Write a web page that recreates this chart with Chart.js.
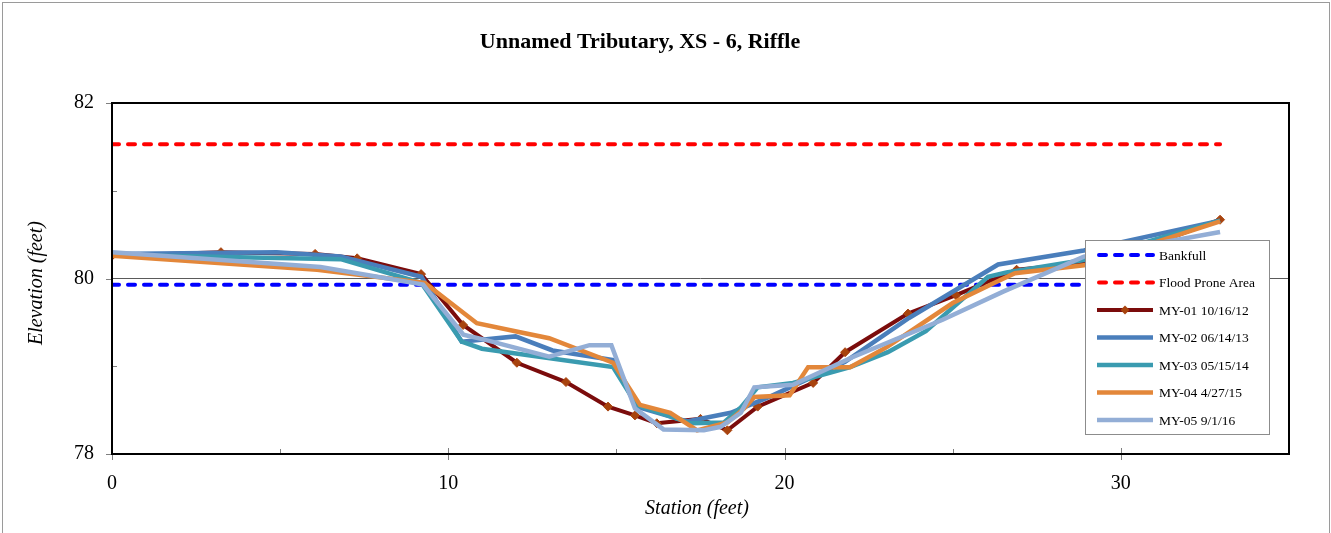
<!DOCTYPE html>
<html>
<head>
<meta charset="utf-8">
<script src="https://cdn.jsdelivr.net/npm/chart.js@4.4.1/dist/chart.umd.min.js"></script>
<style>
  html, body { margin: 0; padding: 0; background: #fff; }
  canvas { display: block; }
</style>
</head>
<body>
<canvas id="xsChart" width="1331" height="533"></canvas>
<script>
// cross-section survey, station / elevation in feet
const bankfullStation = [0, 32.95];
const bankfullElev = [79.93, 79.93];
const floodStation = [0, 32.95];
const floodElev = [81.53, 81.53];

const my01Station = [0, 3.24, 6.04, 7.29, 9.19, 10.44, 12.04, 13.5, 14.75, 15.55, 16.2, 17.5, 18.3, 19.2, 20.85, 21.8, 23.67, 25.1, 26.9, 29.6, 32.95];
const my01Elev = [80.26, 80.30, 80.28, 80.23, 80.05, 79.47, 79.04, 78.82, 78.54, 78.44, 78.35, 78.40, 78.27, 78.54, 78.81, 79.16, 79.60, 79.81, 80.10, 80.20, 80.67];

const my02Station = [0, 4.9, 6.8, 9.2, 10.4, 12.0, 13.1, 14.9, 15.6, 17.1, 18.4, 19.6, 21.8, 23.7, 26.35, 28.9, 32.95];
const my02Elev = [80.28, 80.30, 80.25, 80.02, 79.28, 79.34, 79.18, 79.07, 78.54, 78.37, 78.47, 78.66, 79.05, 79.55, 80.16, 80.32, 80.66];

const my03Station = [0, 6.8, 9.2, 10.4, 11.0, 14.9, 15.6, 17.2, 18.2, 18.7, 19.2, 20.25, 21.95, 23.07, 24.2, 26.05, 26.6, 28.9, 32.95];
const my03Elev = [80.27, 80.22, 79.95, 79.28, 79.20, 78.99, 78.56, 78.35, 78.36, 78.53, 78.76, 78.81, 78.99, 79.16, 79.40, 80.02, 80.07, 80.21, 80.66];

const my04Station = [0, 6.1, 9.3, 10.85, 12.1, 13.0, 14.9, 15.7, 16.6, 17.4, 18.3, 18.8, 19.1, 20.15, 20.7, 21.95, 23.05, 25.0, 26.4, 26.85, 28.9, 32.95];
const my04Elev = [80.26, 80.10, 79.95, 79.49, 79.39, 79.32, 79.04, 78.56, 78.47, 78.27, 78.36, 78.52, 78.65, 78.67, 78.99, 78.99, 79.22, 79.72, 79.98, 80.06, 80.15, 80.65];

const my05Station = [0, 6.2, 9.25, 10.45, 11.1, 13.0, 14.2, 14.85, 15.55, 16.4, 17.6, 18.1, 18.7, 19.1, 20.25, 22.0, 24.7, 26.5, 28.9, 32.95];
const my05Elev = [80.30, 80.13, 79.93, 79.36, 79.30, 79.11, 79.24, 79.24, 78.52, 78.28, 78.27, 78.31, 78.47, 78.76, 78.79, 79.10, 79.53, 79.85, 80.25, 80.53];

const seriesLabels = ['Bankfull', 'Flood Prone Area', 'MY-01 10/16/12', 'MY-02 06/14/13', 'MY-03 05/15/14', 'MY-04 4/27/15', 'MY-05 9/1/16'];

const xTicks = [0, 10, 20, 30];
const xMinorTicks = [5, 15, 25];
const yTicks = [78, 79, 80, 81, 82];
const yLabelled = [78, 80, 82];

const serif = '"Liberation Serif", "DejaVu Serif", serif';

function toPoints(xs, ys) {
    return xs.map((x, i) => ({ x: x, y: ys[i] }));
}

function lineSet(label, xs, ys, color, order) {
    return {
        label: label,
        data: toPoints(xs, ys),
        borderColor: color,
        backgroundColor: color,
        borderWidth: 4.5,
        pointRadius: 0,
        tension: 0,
        order: order
    };
}

const datasets = [
    Object.assign(lineSet(seriesLabels[0], bankfullStation, bankfullElev, '#0000FF', 10),
        { borderWidth: 4, borderDash: [7, 9], borderCapStyle: 'round' }),
    Object.assign(lineSet(seriesLabels[1], floodStation, floodElev, '#FF0000', 9),
        { borderWidth: 4, borderDash: [7, 9], borderCapStyle: 'round' }),
    Object.assign(lineSet(seriesLabels[2], my01Station, my01Elev, '#7B0C0C', 5),
        { borderWidth: 4, pointRadius: 4.5, pointStyle: 'rectRot', pointBackgroundColor: '#A8430E', pointBorderColor: '#A8430E', pointBorderWidth: 1 }),
    lineSet(seriesLabels[3], my02Station, my02Elev, '#4A7EBB', 4),
    lineSet(seriesLabels[4], my03Station, my03Elev, '#3A9BB0', 3),
    lineSet(seriesLabels[5], my04Station, my04Elev, '#E3873A', 2),
    lineSet(seriesLabels[6], my05Station, my05Elev, '#93AED6', 1)
];

// frame, tick marks, title, axis titles and legend box
const decorPlugin = {
    id: 'decor',
    beforeDatasetsDraw(chart) {
        const ctx = chart.ctx;
        const xs = chart.scales.x, ys = chart.scales.y;
        const a = chart.chartArea;
        ctx.save();
        ctx.strokeStyle = '#7f7f7f';
        ctx.lineWidth = 1;
        ctx.beginPath();
        xTicks.forEach(v => {
            const px = Math.round(xs.getPixelForValue(v)) + 0.5;
            ctx.moveTo(px, a.bottom - 6);
            ctx.lineTo(px, a.bottom + 6);
        });
        xMinorTicks.forEach(v => {
            const px = Math.round(xs.getPixelForValue(v)) + 0.5;
            ctx.moveTo(px, a.bottom - 5);
            ctx.lineTo(px, a.bottom);
        });
        yTicks.forEach(v => {
            const py = Math.round(ys.getPixelForValue(v)) + 0.5;
            if (yLabelled.includes(v)) {
                ctx.moveTo(a.left - 6, py);
                ctx.lineTo(a.left, py);
            } else {
                ctx.moveTo(a.left, py);
                ctx.lineTo(a.left + 5, py);
            }
        });
        ctx.stroke();
        ctx.restore();
    },
    afterDraw(chart) {
        const ctx = chart.ctx;
        const a = chart.chartArea;
        ctx.save();

        // plot frame
        ctx.strokeStyle = '#000';
        ctx.lineWidth = 2;
        ctx.strokeRect(a.left, a.top, a.right - a.left, a.bottom - a.top);

        // outer chart border
        ctx.strokeStyle = '#9a9a9a';
        ctx.lineWidth = 1;
        ctx.strokeRect(2.5, 2.5, chart.width - 4, chart.height + 10);

        // title
        ctx.fillStyle = '#000';
        ctx.textAlign = 'center';
        ctx.textBaseline = 'middle';
        ctx.font = 'bold 22px ' + serif;
        ctx.fillText('Unnamed Tributary, XS - 6, Riffle', 640, 42);

        // axis titles
        ctx.font = 'italic 20px ' + serif;
        ctx.fillText('Station (feet)', 697, 509);
        ctx.save();
        ctx.translate(37, 283);
        ctx.rotate(-Math.PI / 2);
        ctx.fillText('Elevation (feet)', 0, 0);
        ctx.restore();

        // legend
        const lx = 1085.5, ly = 240.5, lw = 184, lh = 194;
        ctx.fillStyle = '#fff';
        ctx.fillRect(lx, ly, lw, lh);
        ctx.strokeStyle = '#8c8c8c';
        ctx.lineWidth = 1;
        ctx.strokeRect(lx, ly, lw, lh);

        ctx.font = '13.5px ' + serif;
        ctx.textAlign = 'left';
        chart.data.datasets.forEach((ds, i) => {
            const y = 255 + i * 27.5;
            ctx.save();
            ctx.strokeStyle = ds.borderColor;
            ctx.lineWidth = ds.borderWidth;
            ctx.lineCap = ds.borderDash ? 'round' : 'butt';
            ctx.setLineDash(ds.borderDash || []);
            ctx.beginPath();
            ctx.moveTo(ds.borderDash ? 1099 : 1097, y);
            ctx.lineTo(1153, y);
            ctx.stroke();
            ctx.restore();
            if (ds.pointStyle === 'rectRot') {
                const r = ds.pointRadius;
                ctx.fillStyle = ds.pointBackgroundColor;
                ctx.beginPath();
                ctx.moveTo(1125, y - r);
                ctx.lineTo(1125 + r, y);
                ctx.lineTo(1125, y + r);
                ctx.lineTo(1125 - r, y);
                ctx.closePath();
                ctx.fill();
            }
            ctx.fillStyle = '#000';
            ctx.fillText(ds.label, 1159, y + 1);
        });
        ctx.restore();
    }
};

new Chart(document.getElementById('xsChart'), {
    type: 'line',
    data: { datasets: datasets },
    options: {
        responsive: false,
        animation: false,
        devicePixelRatio: 1,
        layout: { padding: { left: 0, top: 103, right: 42, bottom: 0 } },
        plugins: {
            legend: { display: false },
            title: { display: false },
            tooltip: { enabled: false }
        },
        scales: {
            x: {
                type: 'linear',
                min: 0,
                max: 35,
                afterBuildTicks: scale => { scale.ticks = xTicks.map(v => ({ value: v })); },
                afterFit: scale => { scale.height = 79; },
                border: { display: false },
                grid: { display: false },
                ticks: {
                    padding: 10,
                    color: '#000',
                    font: { family: serif, size: 20 }
                }
            },
            y: {
                type: 'linear',
                min: 78,
                max: 82,
                afterBuildTicks: scale => { scale.ticks = yTicks.map(v => ({ value: v })); },
                afterFit: scale => { scale.width = 112; },
                border: { display: false },
                grid: {
                    drawTicks: false,
                    lineWidth: 1,
                    color: c => (c.tick && c.tick.value === 80) ? '#5a5a5a' : 'rgba(0,0,0,0)'
                },
                ticks: {
                    padding: 18,
                    color: '#000',
                    font: { family: serif, size: 20 },
                    callback: v => yLabelled.includes(v) ? String(v) : ''
                }
            }
        }
    },
    plugins: [decorPlugin]
});
</script>
</body>
</html>
